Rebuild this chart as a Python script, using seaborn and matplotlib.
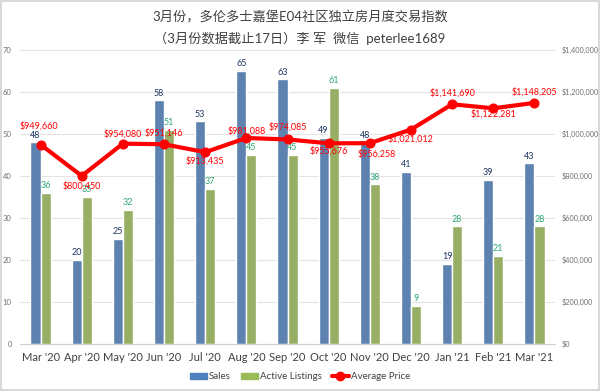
import pandas as pd
import numpy as np
import seaborn as sns
import matplotlib as mpl
import matplotlib.pyplot as plt
from matplotlib.ticker import FuncFormatter, MultipleLocator
from matplotlib.patches import Patch
from matplotlib.lines import Line2D

months = ["Mar '20", "Apr '20", "May '20", "Jun '20", "Jul '20", "Aug '20", "Sep '20",
          "Oct '20", "Nov '20", "Dec '20", "Jan '21", "Feb '21", "Mar '21"]
sales = [48, 20, 25, 58, 53, 65, 63, 49, 48, 41, 19, 39, 43]
active = [36, 35, 32, 51, 37, 45, 45, 61, 38, 9, 28, 21, 28]
avg_price = [949660, 800450, 954080, 951146, 913435, 981088, 974085,
             955676, 956258, 1021012, 1141690, 1122281, 1148205]

# where each price label sits relative to its point (pixels, + is up / right)
price_label_dy = [19, -10, 10, 11, -9, 7, 12, -8, -11, -9, 11, -6, 11]
price_label_dx = [-2, 0, 0, 0, 0, 0, 0, 0, 7, 0, 0, 0, 0]

sns.set_style('white')
plt.rcParams['font.family'] = ['Lato', 'Noto Sans CJK SC', 'DejaVu Sans']

blue = '#4F81BD'
green = '#9BBB59'
red = '#FF0000'

df = pd.DataFrame({'month': months * 2,
                   'count': sales + active,
                   'kind': ['Sales'] * len(months) + ['Active Listings'] * len(months)})

fig = plt.figure(figsize=(6, 3.91), dpi=100)
fig.patch.set_edgecolor('#D9D9D9')
fig.patch.set_linewidth(1.5)
ax = fig.add_axes([20/600, 47/391, 535/600, 294/391])

sns.barplot(data=df, x='month', y='count', hue='kind', palette=[blue, green],
            width=0.49, gap=0, ax=ax, legend=False)
ax.set_ylim(0, 70)
ax.set_xlim(-0.5, len(months) - 0.5)
ax.yaxis.set_major_locator(MultipleLocator(10))
ax.grid(axis='y', color='#E3E3E3', linewidth=0.8)
ax.set_axisbelow(True)
ax.set_xlabel('')
ax.set_ylabel('')
for s in ['top', 'right', 'left']:
    ax.spines[s].set_visible(False)
ax.spines['bottom'].set_color('#D0D0D0')
ax.tick_params(axis='x', length=0, labelsize=8, labelcolor='#404040', pad=6)
ax.tick_params(axis='y', length=0, labelsize=5.5, labelcolor='#707070', pad=6)

ax.bar_label(ax.containers[0], fontsize=6.5, color='#1F3864', padding=2)
ax.bar_label(ax.containers[1], fontsize=6.5, color='#2EA870', padding=2)

ax2 = ax.twinx()
ax2.set_position(ax.get_position())
sns.lineplot(x=np.arange(len(months)), y=avg_price, color=red, linewidth=3,
             marker='o', markersize=6.5, markeredgecolor=red, ax=ax2)
ax2.set_ylim(0, 1400000)
ax2.yaxis.set_major_locator(MultipleLocator(200000))
ax2.yaxis.set_major_formatter(FuncFormatter(lambda v, p: '${:,.0f}'.format(v)))
ax2.tick_params(axis='y', length=0, labelsize=5.2, labelcolor='#707070', pad=5)
for s in ax2.spines.values():
    s.set_visible(False)
ax2.set_xlim(-0.5, len(months) - 0.5)

for i, (p, dx, dy) in enumerate(zip(avg_price, price_label_dx, price_label_dy)):
    ax2.annotate('${:,.0f}'.format(p), (i, p), xytext=(dx, dy), textcoords='offset pixels',
                 ha='center', va='center', fontsize=6.5, color=red)

fig.text(0.5, 0.957, '3月份，多伦多士嘉堡E04社区独立房月度交易指数',
         ha='center', va='center', fontsize=9.5, color='#404040')
fig.text(0.5, 0.903, '（3月份数据截止17日）李 军  微信  peterlee1689',
         ha='center', va='center', fontsize=9.5, color='#404040')

handles = [Patch(color=blue, label='Sales'),
           Patch(color=green, label='Active Listings'),
           Line2D([0], [0], color=red, linewidth=3, marker='o', markersize=6, label='Average Price')]
fig.legend(handles=handles, loc='center', bbox_to_anchor=(0.5, 0.036), ncol=3, frameon=False,
           fontsize=7, handlelength=1.8, handleheight=0.6, handletextpad=0.2, columnspacing=1.0,
           labelcolor='#404040')

fig.savefig('out.png', dpi=100, edgecolor=fig.get_edgecolor())
